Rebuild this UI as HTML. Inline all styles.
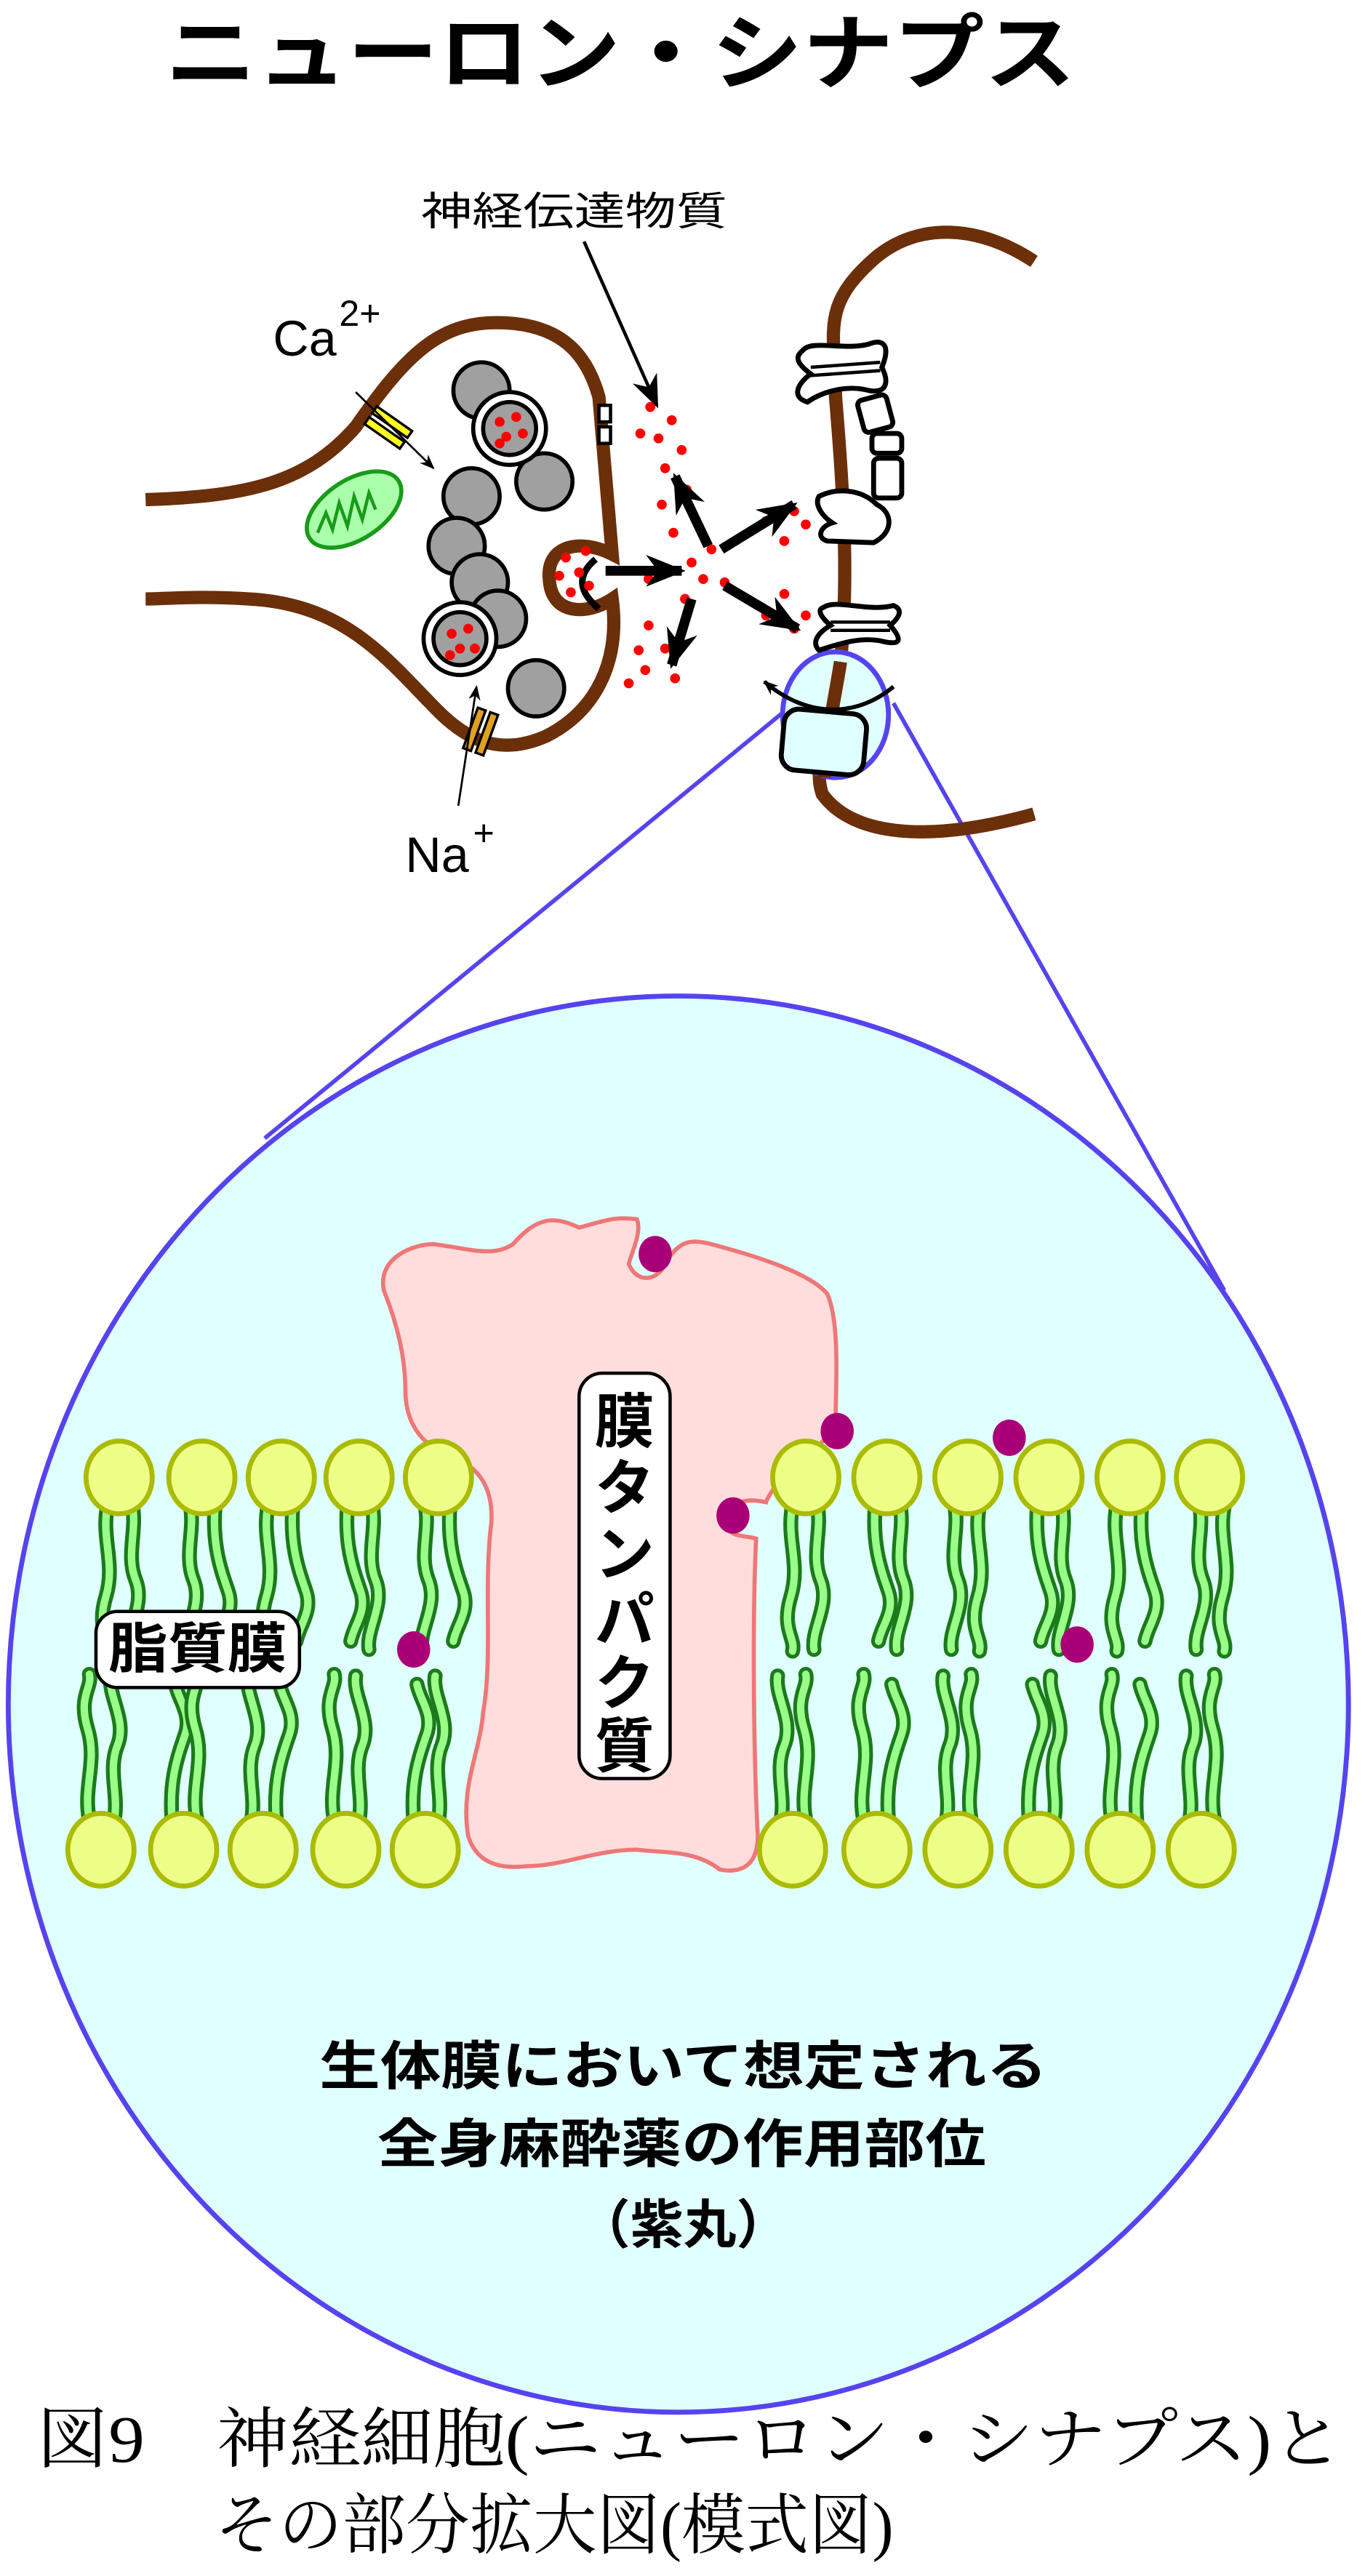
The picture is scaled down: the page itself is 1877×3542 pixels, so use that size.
<!DOCTYPE html>
<html><head><meta charset="utf-8"><style>
html,body{margin:0;padding:0;background:#fff;}
svg{display:block;}
</style></head><body>
<svg width="1877" height="3542" viewBox="0 0 825 1557" preserveAspectRatio="none" xmlns="http://www.w3.org/2000/svg">
<defs>
<marker id="ah" viewBox="0 0 10 10" refX="9" refY="5" markerUnits="userSpaceOnUse" markerWidth="9" markerHeight="9" orient="auto"><path d="M0 1 L10 5 L0 9 L3 5 Z" fill="#000"/></marker>
<marker id="ah2" viewBox="0 0 10 10" refX="9" refY="5" markerUnits="userSpaceOnUse" markerWidth="20" markerHeight="20" orient="auto"><path d="M0 1 L10 5 L0 9 L3 5 Z" fill="#000"/></marker>
<marker id="ah3" viewBox="0 0 10 10" refX="9" refY="5" markerUnits="userSpaceOnUse" markerWidth="24" markerHeight="24" orient="auto"><path d="M0 1 L10 5 L0 9 L3 5 Z" fill="#000"/></marker>
<g id="t1"><path d="M0 0 c-4 20 5 35 -1 55 s3 25 1 33" fill="none" stroke="#1c7a1c" stroke-width="9" stroke-linecap="round"/><path d="M0 0 c-4 20 5 35 -1 55 s3 25 1 33" fill="none" stroke="#99ff88" stroke-width="4.5" stroke-linecap="round"/></g>
<g id="t2"><path d="M0 0 c3 15 -4 30 2 45 s-6 30 -4 42" fill="none" stroke="#1c7a1c" stroke-width="9" stroke-linecap="round"/><path d="M0 0 c3 15 -4 30 2 45 s-6 30 -4 42" fill="none" stroke="#99ff88" stroke-width="4.5" stroke-linecap="round"/></g>
<g id="t3"><path d="M0 0 c-2 25 4 40 8 52 s-4 20 -6 30" fill="none" stroke="#1c7a1c" stroke-width="9" stroke-linecap="round"/><path d="M0 0 c-2 25 4 40 8 52 s-4 20 -6 30" fill="none" stroke="#99ff88" stroke-width="4.5" stroke-linecap="round"/></g>
<g id="b1"><path d="M0 0 c-4 -20 5 -35 -1 -55 s3 -25 1 -33" fill="none" stroke="#1c7a1c" stroke-width="9" stroke-linecap="round"/><path d="M0 0 c-4 -20 5 -35 -1 -55 s3 -25 1 -33" fill="none" stroke="#99ff88" stroke-width="4.5" stroke-linecap="round"/></g>
<g id="b2"><path d="M0 0 c3 -15 -4 -30 2 -45 s-6 -30 -4 -42" fill="none" stroke="#1c7a1c" stroke-width="9" stroke-linecap="round"/><path d="M0 0 c3 -15 -4 -30 2 -45 s-6 -30 -4 -42" fill="none" stroke="#99ff88" stroke-width="4.5" stroke-linecap="round"/></g>
<g id="b3"><path d="M0 0 c-2 -25 4 -40 8 -52 s-4 -20 -6 -30" fill="none" stroke="#1c7a1c" stroke-width="9" stroke-linecap="round"/><path d="M0 0 c-2 -25 4 -40 8 -52 s-4 -20 -6 -30" fill="none" stroke="#99ff88" stroke-width="4.5" stroke-linecap="round"/></g>
</defs>

<text x="375" y="50" font-family="'Liberation Sans','Noto Sans CJK JP',sans-serif" font-weight="bold" font-size="50" text-anchor="middle" textLength="550" lengthAdjust="spacingAndGlyphs">ニューロン・シナプス</text>

<line x1="474" y1="430" x2="160" y2="688" stroke="#5544ee" stroke-width="2.5"/>
<line x1="540" y1="425" x2="740" y2="780" stroke="#5544ee" stroke-width="2.5"/>
<ellipse cx="410" cy="1030" rx="405" ry="428" fill="#e0ffff" stroke="#5544ee" stroke-width="3"/>

<text x="347" y="136" font-family="'Liberation Sans','Noto Sans CJK JP',sans-serif" font-size="24" text-anchor="middle" textLength="185" lengthAdjust="spacingAndGlyphs">神経伝達物質</text>
<line x1="353" y1="146" x2="397" y2="245" stroke="#000" stroke-width="2" marker-end="url(#ah2)"/>

<path d="M88 302 C150 300 185 292 215 258 C245 215 265 195 300 195 C340 195 355 215 362 240 L370 335 C350 325 330 330 332 350 C333 372 355 372 370 362 C375 400 360 430 330 445 C305 456 285 450 265 430 C235 400 210 365 150 362 C120 360 100 362 88 362" fill="none" stroke="#6b2f0a" stroke-width="8"/>
<path d="M625 158 C590 135 555 135 530 155 C495 185 505 200 505 240 C510 300 513 350 508 400 C505 440 490 460 497 480 C515 505 560 510 625 492" fill="none" stroke="#6b2f0a" stroke-width="8"/>

<ellipse cx="505" cy="432" rx="32" ry="38" fill="#e0ffff" stroke="#5544ee" stroke-width="3"/>
<path d="M508 400 C505 420 500 440 498 470" fill="none" stroke="#6b2f0a" stroke-width="8"/>
<rect x="473" y="430" width="50" height="37" rx="9" fill="#e0ffff" stroke="#000" stroke-width="3" transform="rotate(5 498 448)"/>
<path d="M540 415 C520 432 490 436 462 412" fill="none" stroke="#000" stroke-width="2.5" marker-end="url(#ah)"/>

<path d="M485 212 C490 205 510 212 525 208 C535 204 538 210 533 222 C538 232 535 238 525 236 C510 232 495 238 488 243 C478 240 482 232 490 226 C482 220 480 216 485 212Z" fill="#fff" stroke="#000" stroke-width="3"/>
<line x1="490" y1="222" x2="532" y2="219" stroke="#000" stroke-width="2"/><line x1="490" y1="227" x2="532" y2="224" stroke="#000" stroke-width="2"/>
<rect x="520" y="240" width="18" height="20" rx="3" fill="#fff" stroke="#000" stroke-width="3" transform="rotate(-15 529 250)"/>
<rect x="527" y="262" width="18" height="12" rx="3" fill="#fff" stroke="#000" stroke-width="3"/>
<rect x="528" y="277" width="17" height="24" rx="3" fill="#fff" stroke="#000" stroke-width="3"/>
<path d="M495 300 C505 295 520 295 530 305 C540 310 540 322 528 328 L500 327 C493 325 496 318 503 316 C497 312 492 305 495 300Z" fill="#fff" stroke="#000" stroke-width="3"/>
<path d="M498 367 C505 362 525 370 540 366 C545 368 545 372 538 378 C545 386 545 390 535 388 C520 384 505 390 495 393 C490 388 495 382 502 378 C495 372 494 368 498 367Z" fill="#fff" stroke="#000" stroke-width="3"/>
<line x1="502" y1="376" x2="538" y2="376" stroke="#000" stroke-width="2"/><line x1="502" y1="381" x2="538" y2="381" stroke="#000" stroke-width="2"/>

<g transform="rotate(35 235 258)"><rect x="222" y="252" width="26" height="5" fill="#ffff22" stroke="#000" stroke-width="1.5"/><rect x="222" y="260" width="26" height="5" fill="#ffff22" stroke="#000" stroke-width="1.5"/></g>
<line x1="215" y1="237" x2="262" y2="283" stroke="#000" stroke-width="1.2" marker-end="url(#ah)"/>
<text x="165" y="215" font-family="'Liberation Sans',sans-serif" font-size="30">Ca</text>
<text x="205" y="197" font-family="'Liberation Sans',sans-serif" font-size="22">2+</text>
<g transform="rotate(-70 290 442)"><rect x="277" y="436" width="26" height="5" fill="#e0a020" stroke="#000" stroke-width="1.5"/><rect x="277" y="444" width="26" height="5" fill="#e0a020" stroke="#000" stroke-width="1.5"/></g>
<line x1="277" y1="487" x2="288" y2="415" stroke="#000" stroke-width="1.2" marker-end="url(#ah)"/>
<text x="245" y="527" font-family="'Liberation Sans',sans-serif" font-size="30">Na</text>
<text x="286" y="511" font-family="'Liberation Sans',sans-serif" font-size="22">+</text>

<ellipse cx="214" cy="308" rx="32" ry="18" transform="rotate(-33 214 308)" fill="#aaffaa" stroke="#1a9a1a" stroke-width="2.5"/>
<path d="M192 322 l5 -12 l4 10 l4 -16 l5 14 l4 -18 l5 14 l4 -16 l4 10" fill="none" stroke="#1a9a1a" stroke-width="2"/>

<g fill="#a0a0a0" stroke="#000" stroke-width="2.5">
<circle cx="291" cy="236" r="17"/><circle cx="285" cy="300" r="17"/><circle cx="276" cy="330" r="17"/><circle cx="329" cy="291" r="17"/><circle cx="290" cy="352" r="17"/><circle cx="301" cy="374" r="17"/><circle cx="324" cy="416" r="17"/>
</g>
<circle cx="308" cy="259" r="22" fill="#fff" stroke="#000" stroke-width="2.5"/><circle cx="308" cy="259" r="16" fill="#a0a0a0" stroke="#000" stroke-width="2.5"/>
<circle cx="278" cy="386" r="22" fill="#fff" stroke="#000" stroke-width="2.5"/><circle cx="278" cy="386" r="16" fill="#a0a0a0" stroke="#000" stroke-width="2.5"/>
<rect x="362" y="245" width="7" height="10" fill="#fff" stroke="#000" stroke-width="2"/><rect x="362" y="258" width="7" height="10" fill="#fff" stroke="#000" stroke-width="2"/>
<path d="M360 338 C348 348 350 358 362 368" fill="none" stroke="#000" stroke-width="4"/>

<g fill="#ff0000">
<circle cx="302" cy="255" r="3"/><circle cx="312" cy="252" r="3"/><circle cx="306" cy="264" r="3"/><circle cx="316" cy="262" r="3"/><circle cx="302" cy="268" r="3"/>
<circle cx="273" cy="383" r="3"/><circle cx="283" cy="380" r="3"/><circle cx="278" cy="392" r="3"/><circle cx="287" cy="392" r="3"/><circle cx="272" cy="396" r="3"/>
<circle cx="342" cy="337" r="3"/><circle cx="354" cy="333" r="3"/><circle cx="338" cy="348" r="3"/><circle cx="350" cy="346" r="3"/><circle cx="356" cy="354" r="3"/><circle cx="345" cy="358" r="3"/>
<circle cx="393" cy="246" r="3"/><circle cx="406" cy="254" r="3"/><circle cx="387" cy="262" r="3"/><circle cx="398" cy="265" r="3"/><circle cx="412" cy="272" r="3"/><circle cx="402" cy="283" r="3"/><circle cx="415" cy="296" r="3"/><circle cx="400" cy="305" r="3"/><circle cx="407" cy="322" r="3"/>
<circle cx="418" cy="340" r="3"/><circle cx="430" cy="332" r="3"/><circle cx="425" cy="350" r="3"/><circle cx="438" cy="352" r="3"/><circle cx="392" cy="350" r="3"/><circle cx="414" cy="362" r="3"/>
<circle cx="392" cy="378" r="3"/><circle cx="386" cy="393" r="3"/><circle cx="402" cy="392" r="3"/><circle cx="390" cy="405" r="3"/><circle cx="408" cy="410" r="3"/><circle cx="380" cy="413" r="3"/>
<circle cx="463" cy="315" r="3"/><circle cx="480" cy="309" r="3"/><circle cx="487" cy="317" r="3"/><circle cx="474" cy="327" r="3"/>
<circle cx="474" cy="359" r="3"/><circle cx="463" cy="372" r="3"/><circle cx="487" cy="372" r="3"/><circle cx="480" cy="380" r="3"/>
</g>
<g stroke="#000" stroke-width="6" fill="none">
<line x1="366" y1="345" x2="412" y2="345" marker-end="url(#ah3)"/>
<line x1="428" y1="330" x2="408" y2="288" marker-end="url(#ah3)"/>
<line x1="436" y1="332" x2="480" y2="305" marker-end="url(#ah3)"/>
<line x1="438" y1="354" x2="482" y2="380" marker-end="url(#ah3)"/>
<line x1="418" y1="362" x2="406" y2="402" marker-end="url(#ah3)"/>
</g>

<path d="M232 780 C228 760 250 752 262 752 C285 755 298 760 310 752 C325 735 335 735 350 742 C365 738 372 735 385 737 C388 745 382 756 380 764 C385 776 398 775 403 762 C410 752 415 748 430 752 C460 760 490 770 500 782 C508 800 505 840 505 860 C495 880 470 890 463 908 C450 905 440 908 438 920 C440 930 452 928 457 930 C455 970 455 1050 458 1110 C458 1130 445 1132 435 1130 C420 1118 400 1120 385 1118 C360 1118 340 1128 318 1128 C300 1130 288 1125 283 1110 C278 1080 290 1060 292 1035 C298 1000 292 960 297 920 C298 900 290 885 270 880 C250 870 245 855 245 840 C245 820 240 800 232 780Z" fill="#ffdddd" stroke="#ee7777" stroke-width="2.5"/>

<g>
<use href="#t1" x="65" y="910"/><use href="#t2" x="80" y="910"/>
<use href="#t2" x="115" y="910"/><use href="#t3" x="130" y="910"/>
<use href="#t1" x="162" y="910"/><use href="#t3" x="177" y="910"/>
<use href="#t3" x="210" y="910"/><use href="#t2" x="225" y="910"/>
<use href="#t2" x="257" y="910"/><use href="#t3" x="272" y="910"/>
<use href="#t1" x="479" y="910"/><use href="#t2" x="494" y="910"/>
<use href="#t3" x="529" y="910"/><use href="#t2" x="544" y="910"/>
<use href="#t2" x="577" y="910"/><use href="#t1" x="592" y="910"/>
<use href="#t3" x="627" y="910"/><use href="#t2" x="642" y="910"/>
<use href="#t1" x="675" y="910"/><use href="#t3" x="690" y="910"/>
<use href="#t2" x="725" y="910"/><use href="#t1" x="740" y="910"/>
</g>
<g>
<use href="#b1" x="54" y="1100"/><use href="#b2" x="69" y="1100"/>
<use href="#b3" x="104" y="1100"/><use href="#b1" x="119" y="1100"/>
<use href="#b2" x="152" y="1100"/><use href="#b3" x="167" y="1100"/>
<use href="#b1" x="202" y="1100"/><use href="#b2" x="217" y="1100"/>
<use href="#b3" x="250" y="1100"/><use href="#b2" x="265" y="1100"/>
<use href="#b2" x="472" y="1100"/><use href="#b1" x="487" y="1100"/>
<use href="#b1" x="522" y="1100"/><use href="#b3" x="537" y="1100"/>
<use href="#b2" x="572" y="1100"/><use href="#b1" x="587" y="1100"/>
<use href="#b3" x="622" y="1100"/><use href="#b2" x="637" y="1100"/>
<use href="#b1" x="672" y="1100"/><use href="#b3" x="687" y="1100"/>
<use href="#b2" x="719" y="1100"/><use href="#b1" x="734" y="1100"/>
</g>
<g fill="#eeff88" stroke="#aabb00" stroke-width="3">
<ellipse cx="72" cy="893" rx="20" ry="22"/><ellipse cx="122" cy="893" rx="20" ry="22"/><ellipse cx="170" cy="893" rx="20" ry="22"/><ellipse cx="217" cy="893" rx="20" ry="22"/><ellipse cx="265" cy="893" rx="20" ry="22"/>
<ellipse cx="487" cy="893" rx="20" ry="22"/><ellipse cx="536" cy="893" rx="20" ry="22"/><ellipse cx="585" cy="893" rx="20" ry="22"/><ellipse cx="634" cy="893" rx="20" ry="22"/><ellipse cx="683" cy="893" rx="20" ry="22"/><ellipse cx="731" cy="893" rx="20" ry="22"/>
<ellipse cx="61" cy="1118" rx="20" ry="22"/><ellipse cx="111" cy="1118" rx="20" ry="22"/><ellipse cx="159" cy="1118" rx="20" ry="22"/><ellipse cx="209" cy="1118" rx="20" ry="22"/><ellipse cx="257" cy="1118" rx="20" ry="22"/>
<ellipse cx="479" cy="1118" rx="20" ry="22"/><ellipse cx="530" cy="1118" rx="20" ry="22"/><ellipse cx="579" cy="1118" rx="20" ry="22"/><ellipse cx="628" cy="1118" rx="20" ry="22"/><ellipse cx="677" cy="1118" rx="20" ry="22"/><ellipse cx="726" cy="1118" rx="20" ry="22"/>
</g>
<g fill="#aa0077">
<ellipse cx="396" cy="758" rx="10" ry="11"/><ellipse cx="506" cy="865" rx="10" ry="11"/><ellipse cx="610" cy="869" rx="10" ry="11"/><ellipse cx="443" cy="916" rx="10" ry="11"/><ellipse cx="250" cy="997" rx="10" ry="11"/><ellipse cx="651" cy="994" rx="10" ry="11"/>
</g>

<rect x="58" y="974" width="123" height="46" rx="13" fill="#fff" stroke="#000" stroke-width="2"/>
<text x="119.5" y="1008" font-family="'Liberation Sans','Noto Sans CJK JP',sans-serif" font-weight="bold" font-size="33" text-anchor="middle" textLength="108" lengthAdjust="spacingAndGlyphs">脂質膜</text>
<rect x="350" y="830" width="55" height="245" rx="14" fill="#fff" stroke="#000" stroke-width="2"/>
<text font-family="'Liberation Sans','Noto Sans CJK JP',sans-serif" font-size="36" font-weight="bold" text-anchor="middle">
<tspan x="377.5" y="872">膜</tspan><tspan x="377.5" y="912">タ</tspan><tspan x="377.5" y="952">ン</tspan><tspan x="377.5" y="992">パ</tspan><tspan x="377.5" y="1030">ク</tspan><tspan x="377.5" y="1068">質</tspan>
</text>

<g font-family="'Liberation Sans','Noto Sans CJK JP',sans-serif" font-size="32" font-weight="bold" text-anchor="middle">
<text x="413" y="1260" textLength="440" lengthAdjust="spacingAndGlyphs">生体膜において想定される</text>
<text x="412" y="1307" textLength="368" lengthAdjust="spacingAndGlyphs">全身麻酔薬の作用部位</text>
<text x="413" y="1356">（紫丸）</text>
</g>

<g font-family="'Liberation Serif','Noto Serif CJK SC',serif" font-size="40">
<text x="22" y="1488" textLength="790" lengthAdjust="spacingAndGlyphs">図9　神経細胞(ニューロン・シナプス)と</text>
<text x="130" y="1540" textLength="410" lengthAdjust="spacingAndGlyphs">その部分拡大図(模式図)</text>
</g>
</svg>
</body></html>
